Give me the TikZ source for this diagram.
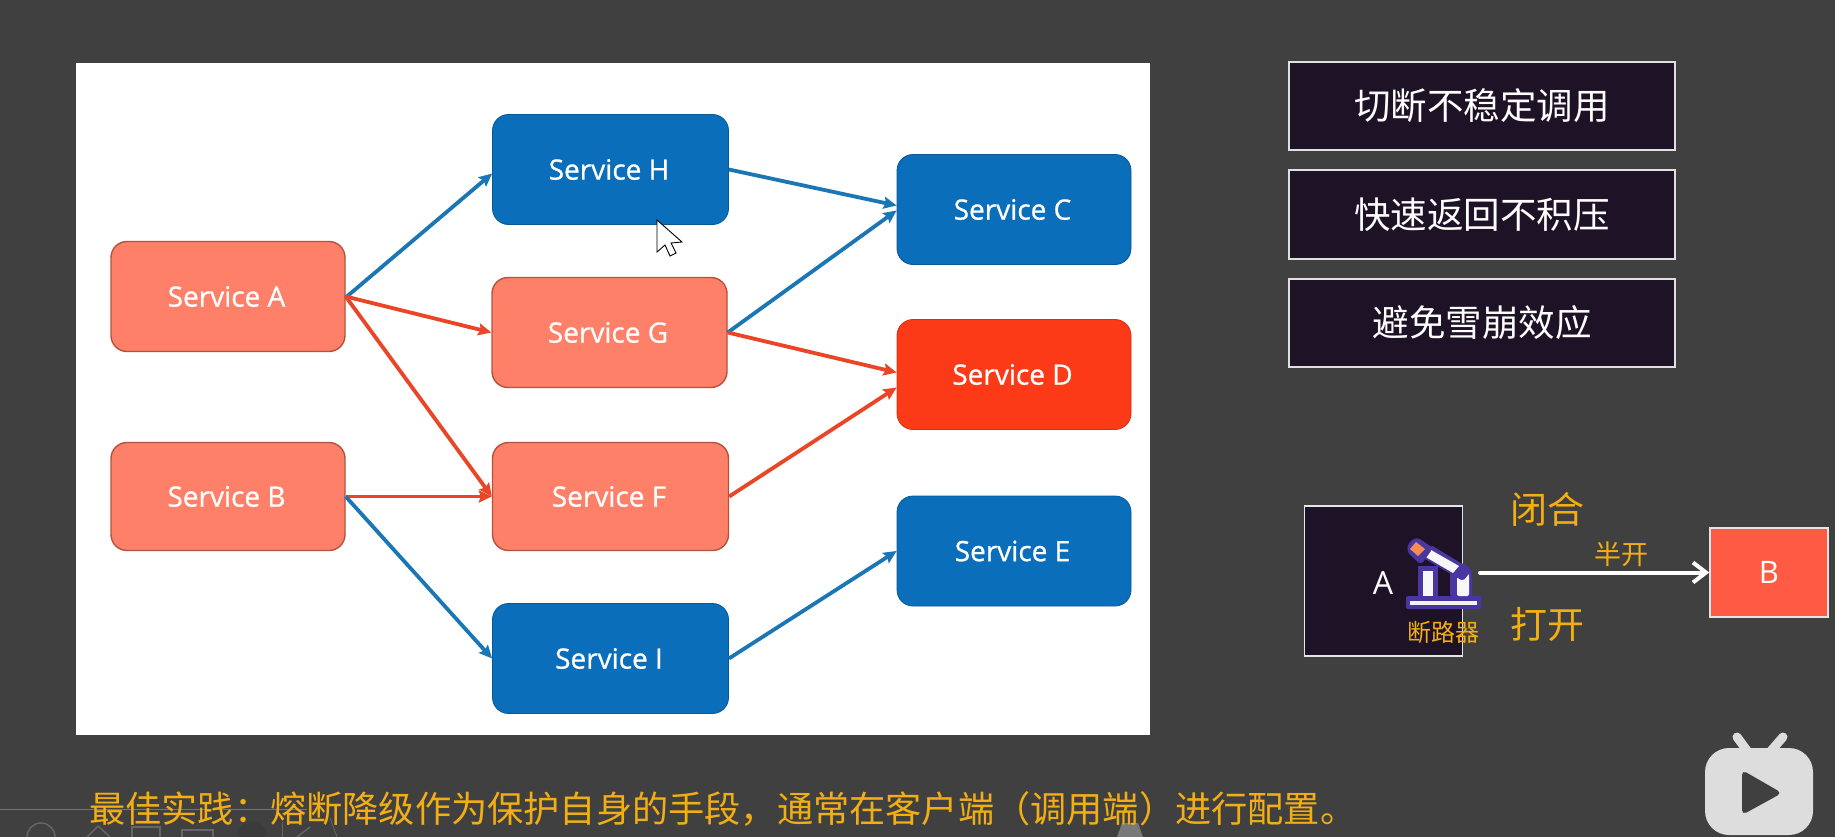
\documentclass[tikz,border=0pt]{standalone}
\usepackage{fontspec}
\setmainfont{Open Sans}
\newfontfamily\svcfont[FakeBold=0.8]{Open Sans}
\newfontfamily\cjk{Noto Sans CJK SC}
\usetikzlibrary{arrows.meta}
\definecolor{bgdark}{HTML}{404040}
\definecolor{svcblue}{HTML}{0A6EBB}
\definecolor{svcsalmon}{HTML}{FF8068}
\definecolor{svcsalmonl}{HTML}{B5523E}
\definecolor{svcred}{HTML}{FC3A18}
\definecolor{linkblue}{HTML}{1A76B4}
\definecolor{linkred}{HTML}{EA4526}
\definecolor{panelnavy}{HTML}{1E1226}
\definecolor{amber}{HTML}{F2AE14}
\definecolor{boxB}{HTML}{FF5A44}
\definecolor{iconpurple}{HTML}{4A36A0}
\definecolor{iconorange}{HTML}{F58B55}
\tikzset{
  x=1pt,y=-1pt,
  svc/.style={rounded corners=16pt,minimum width=#1,minimum height=110pt,inner sep=0pt,text=white,font=\svcfont\fontsize{28}{30}\selectfont,anchor=center},
  hotsvc/.style={svc=234pt,fill=svcsalmon,draw=svcsalmonl,line width=1.4pt},
  coolsvc/.style={svc=236pt,fill=svcblue,draw=svcblue!80!black,line width=0.8pt},
  redsvc/.style={svc=234pt,fill=svcred,draw=svcred!85!black,line width=0.8pt},
  bluelink/.style={draw=linkblue,line width=3.8pt,-{Stealth[length=13pt,width=12pt,inset=2pt]}},
  redlink/.style={draw=linkred,line width=3.8pt,-{Stealth[length=13pt,width=12pt,inset=2pt]}},
  tip/.style={fill=panelnavy,draw=white!88!black,line width=1.8pt,minimum width=386pt,minimum height=88pt,inner sep=0pt,text=white,font=\cjk\fontsize{36.5}{40}\selectfont},
  amberlabel/.style={text=amber,inner sep=0pt,font=\cjk\fontsize{#1}{#1}\selectfont},
  faint/.style={draw=white!20!bgdark,line width=1.4pt},
}
\begin{document}
\begin{tikzpicture}
\useasboundingbox (0,0) rectangle (1835,837);
\fill[bgdark] (0,0) rectangle (1835,837);
\fill[white] (76,63) rectangle (1150,735);

% services
\node[hotsvc] (svcA) at (228,296.5) {\hspace{-3pt}Service A};
\node[hotsvc,minimum height=108pt] (svcB) at (228,496.5) {\hspace{-3pt}Service B};
\node[coolsvc] (svcH) at (610.5,169.5) {\hspace{-3pt}Service H};
\node[hotsvc,minimum width=235pt] (svcG) at (609.5,332.5) {\hspace{-3pt}Service G};
\node[hotsvc,minimum width=236pt,minimum height=108pt] (svcF) at (610.5,496.5) {\hspace{-3pt}Service F};
\node[coolsvc] (svcI) at (610.5,658.5) {\hspace{-3pt}Service I};
\node[coolsvc,minimum width=234pt] (svcC) at (1014,209.5) {\hspace{-3pt}Service C};
\node[redsvc] (svcD) at (1014,374.5) {\hspace{-3pt}Service D};
\node[coolsvc,minimum width=234pt] (svcE) at (1014,551) {\hspace{-3pt}Service E};

\draw[bluelink] ([yshift=-1pt]svcA.east) -- ([yshift=-4pt]svcH.west);
\draw[redlink] (svcA.east) -- (svcG.west);
\draw[redlink] (svcA.east) -- (svcF.west);
\draw[redlink] (svcB.east) -- (svcF.west);
\draw[bluelink] (svcB.east) -- (svcI.west);
\draw[bluelink] (svcH.east) -- ([yshift=4pt]svcC.west);
\draw[bluelink] (svcG.east) -- ([yshift=-1pt]svcC.west);
\draw[redlink] (svcG.east) -- ([yshift=2pt]svcD.west);
\draw[redlink] (svcF.east) -- ([yshift=-13pt]svcD.west);
\draw[bluelink] (svcI.east) -- (svcE.west);

% mouse pointer
\draw[fill=white,draw=black,line width=0.9pt,line join=miter]
  (657,220) -- (657,252) -- (665,245) -- (670,256) -- (676,253) -- (671,243) -- (682,242) -- cycle;

% tips
\node[tip] (tip1) at (1482,106) {切断不稳定调用};
\node[tip,minimum height=89pt] (tip2) at (1482,214.5) {快速返回不积压};
\node[tip] (tip3) at (1482,323) {避免雪崩效应};

% breaker diagram
\node[fill=panelnavy,draw=white!90!black,line width=1.8pt,minimum width=158pt,minimum height=150pt,inner sep=0pt] (boxA) at (1383.5,581) {};
\node[text=white,font=\fontsize{32}{32}\selectfont,inner sep=0pt] (labelA) at (1383,583) {A};
\node[fill=boxB,draw=white!90!black,line width=1.5pt,minimum width=118pt,minimum height=89pt,inner sep=0pt,text=white,font=\fontsize{31}{31}\selectfont] (boxB) at (1769,572.5) {B};
\coordinate (brkout) at (1480,572.5);
\draw[white,line width=4pt,line cap=round,-{Straight Barb[length=13pt,width=20pt,line width=4pt]}] (brkout) -- (boxB.west);

% breaker icon
\begin{scope}[line join=round]
  \fill[iconpurple,rounded corners=2pt] (1406,596) rectangle (1481,609);
  \fill[white!95!black] (1410,600.5) rectangle (1477,604.5);
  \fill[iconpurple] (1418,566) rectangle (1438,598);
  \fill[white!97!black] (1423,571) rectangle (1433,596);
  \fill[iconpurple,rounded corners=4pt] (1450,598) -- (1450,570) -- (1462,562) -- (1472,570) -- (1472,598) -- cycle;
  \fill[white!97!black,rounded corners=2pt] (1457,596) -- (1457,573) -- (1463,569) -- (1469,573) -- (1469,596) -- cycle;
  \fill[iconpurple] (1463.5,575) circle (3pt);
  \fill[iconpurple,rounded corners=2pt] (1431,545) -- (1472,570) -- (1463,581) -- (1420,556) -- cycle;
  \fill[white!97!black] (1431,550) -- (1459,566) -- (1453,573) -- (1424,556) -- cycle;
  \fill[iconpurple,rounded corners=4pt] (1417,537) -- (1433,548) -- (1421,565) -- (1407,552) -- (1408,543) -- cycle;
  \fill[iconorange] (1416,542) -- (1425,549) -- (1418,556) -- (1410,549) -- cycle;
\end{scope}
\node[amberlabel=24] (lblBreaker) at (1443,632) {断路器};
\node[amberlabel=37] (lblClosed) at (1547,509) {闭合};
\node[amberlabel=27] (lblHalf) at (1621,554) {半开};
\node[amberlabel=37] (lblOpen) at (1547,625) {打开};

% player bar remnants
\fill[white!30!bgdark] (1117,837) -- (1122,823) -- (1138,823) -- (1143,837) -- cycle;
\draw[draw=white!28!bgdark,line width=1pt] (0,809) -- (307,809);
\draw[faint] (27,837) arc (180:360:14);
\draw[faint] (87,837) -- (98,826) -- (110,837);
\draw[faint] (132,837) -- (132,827) -- (160,827) -- (160,837);
\draw[faint] (182,837) -- (182,830) -- (213,830) -- (213,837);
\fill[white!5!bgdark!80!black] (237,837) arc (180:360:15);
\draw[faint,line width=0.8pt] (282,837) -- (282,822);
\draw[faint] (297,837) -- (310,827);
\draw[faint,line width=0.8pt] (330,818) -- (337,837);

% caption
\node[amberlabel=36.2,anchor=west] (caption) at (89,809) {最佳实践：熔断降级作为保护自身的手段，通常在客户端（调用端）进行配置。};

% play logo
\fill[white!82!bgdark,rounded corners=24pt] (1705,748) rectangle (1813,835);
\draw[white!82!bgdark,line width=9pt,line cap=round] (1748,752) -- (1737,737);
\draw[white!82!bgdark,line width=9pt,line cap=round] (1770,752) -- (1783,737);
\fill[bgdark,rounded corners=5pt] (1742,770) -- (1782,793) -- (1742,815) -- cycle;
\end{tikzpicture}
\end{document}
